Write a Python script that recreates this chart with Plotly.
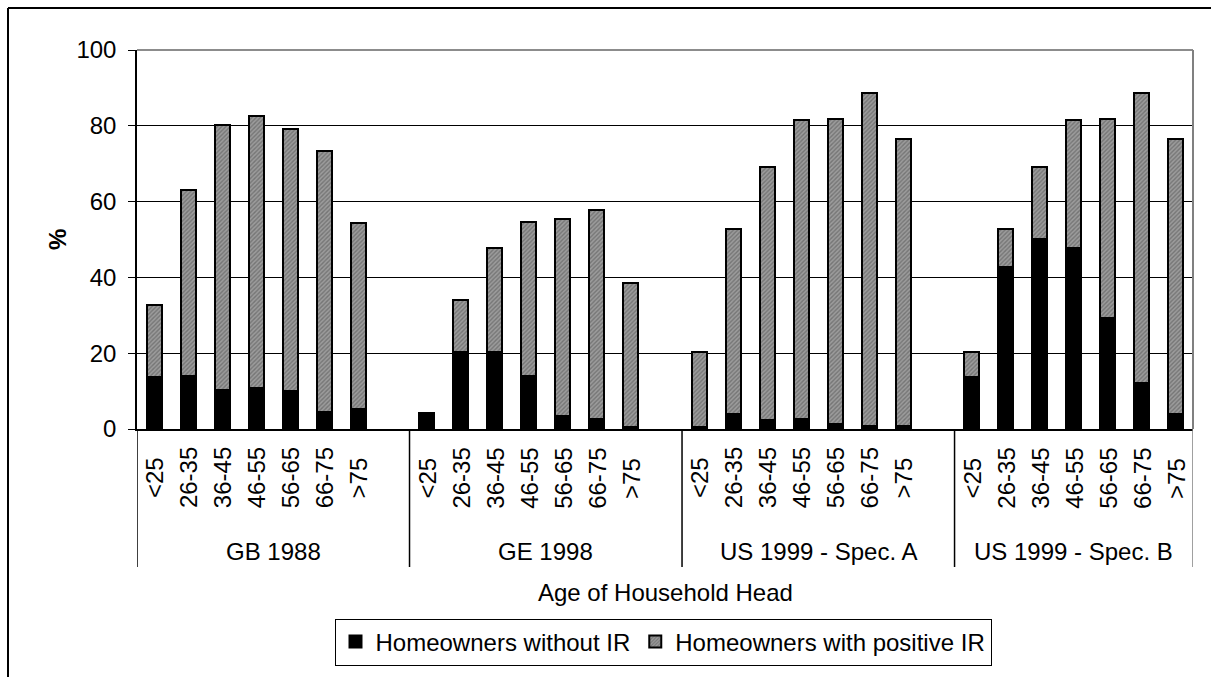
import plotly.graph_objects as go

# --- data -------------------------------------------------------------
groups = ["GB 1988", "GE 1998", "US 1999 - Spec. A", "US 1999 - Spec. B"]
ages = ["<25", "26-35", "36-45", "46-55", "56-65", "66-75", ">75"]

without_ir = [
    [13.8, 14.1, 10.3, 10.7, 10.1, 4.6, 5.2],
    [4.1, 20.2, 20.2, 14.0, 3.5, 2.6, 0.4],
    [0.6, 4.0, 2.4, 2.7, 1.3, 0.9, 0.7],
    [13.6, 42.8, 50.2, 47.7, 29.3, 12.1, 4.0],
]
positive_ir = [
    [18.9, 49.0, 69.9, 71.9, 69.0, 68.8, 49.1],
    [0.0, 13.8, 27.6, 40.6, 51.8, 55.2, 38.1],
    [19.8, 48.7, 66.7, 78.8, 80.6, 87.8, 75.9],
    [6.8, 9.9, 18.9, 33.8, 52.6, 76.6, 72.6],
]

# --- layout constants ---------------------------------------------------
W, H = 1211, 677
L, R, T, B = 137, 18, 50, 248
FONT = "Arial, Liberation Sans, sans-serif"
FS = 24
SLOT = len(ages) + 1  # each group leaves one empty slot after it
N_SLOTS = len(groups) * SLOT - 1


def px_x(p):
    return (p - L) / (W - L - R)


def px_y(p):
    return (H - B - p) / (H - T - B)


xs = []
y_black, y_gray = [], []
for g, name in enumerate(groups):
    for i, a in enumerate(ages):
        xs.append(g * SLOT + i)
        y_black.append(without_ir[g][i])
        y_gray.append(positive_ir[g][i])

fig = go.Figure()
fig.add_trace(go.Bar(
    x=xs, y=y_black, name="Homeowners without IR", width=0.44,
    marker=dict(color="black", line=dict(color="black", width=2)),
))
fig.add_trace(go.Bar(
    x=xs, y=y_gray, name="Homeowners with positive IR", width=0.44,
    marker=dict(
        color="#8c8c8c",
        line=dict(color="black", width=2),
        pattern=dict(shape="/", fgcolor="#4e4e4e", bgcolor="#9c9c9c",
                     size=3, solidity=0.45),
    ),
))

annotations = []
# inner category labels (age bands), rotated
for g, name in enumerate(groups):
    for i, a in enumerate(ages):
        annotations.append(dict(
            x=g * SLOT + i, xref="x", y=px_y(478), yref="paper",
            text=a, textangle=-90, showarrow=False,
            xanchor="center", yanchor="middle",
            font=dict(family=FONT, size=FS, color="black"),
        ))
    # outer category labels (survey)
    left = g * SLOT - 0.5
    right = min(g * SLOT + len(ages) + 0.5, N_SLOTS - 0.5)
    annotations.append(dict(
        x=(left + right) / 2, xref="x", y=px_y(551), yref="paper",
        text=name, showarrow=False, xanchor="center", yanchor="middle",
        font=dict(family=FONT, size=FS, color="black"),
    ))

annotations.append(dict(
    x=px_x(665), xref="paper", y=px_y(592), yref="paper",
    text="Age of Household Head", showarrow=False,
    xanchor="center", yanchor="middle",
    font=dict(family=FONT, size=FS, color="black"),
))
annotations.append(dict(
    x=px_x(57), xref="paper", y=px_y(240), yref="paper",
    text="<b>%</b>", textangle=-90, showarrow=False,
    xanchor="center", yanchor="middle",
    font=dict(family=FONT, size=FS, color="black"),
))

shapes = []
# dividers between survey groups, extending below the axis
for g in range(len(groups) + 1):
    xpos = min(g * SLOT - 0.5, N_SLOTS - 0.5)
    color = "#808080" if g == len(groups) else "black"
    shapes.append(dict(
        type="line", xref="x", yref="paper",
        x0=xpos, x1=xpos, y0=px_y(567), y1=0,
        line=dict(color=color, width=1.5),
    ))
# plot-area frame: top and right edges
shapes.append(dict(type="line", xref="paper", yref="paper",
                   x0=0, x1=1, y0=1, y1=1,
                   line=dict(color="#666666", width=1.5)))
shapes.append(dict(type="line", xref="paper", yref="paper",
                   x0=1, x1=1, y0=0, y1=1,
                   line=dict(color="#808080", width=2)))
# chart-area border
shapes.append(dict(type="line", xref="paper", yref="paper",
                   x0=px_x(8), x1=px_x(1215), y0=px_y(8), y1=px_y(8),
                   line=dict(color="black", width=2)))
shapes.append(dict(type="line", xref="paper", yref="paper",
                   x0=px_x(8), x1=px_x(8), y0=px_y(8), y1=px_y(690),
                   line=dict(color="black", width=2)))

fig.update_layout(
    width=W, height=H,
    margin=dict(l=L, r=R, t=T, b=B),
    barmode="stack",
    paper_bgcolor="white", plot_bgcolor="white",
    font=dict(family=FONT, size=FS, color="black"),
    showlegend=True,
    legend=dict(
        orientation="h", x=px_x(663), y=px_y(642),
        xanchor="center", yanchor="middle", traceorder="normal",
        bordercolor="black", borderwidth=1,
        font=dict(family=FONT, size=24, color="black"),
        itemwidth=30, tracegroupgap=0,
    ),
    annotations=annotations,
    shapes=shapes,
    bargap=0,
)
fig.update_xaxes(
    range=[-0.5, N_SLOTS - 0.5], showticklabels=False, ticks="",
    showgrid=False, zeroline=False,
    showline=True, linecolor="black", linewidth=1.5,
)
fig.update_yaxes(
    range=[0, 100], dtick=20, tick0=0,
    showgrid=True, gridcolor="black", gridwidth=1,
    zeroline=False, showline=True, linecolor="black", linewidth=1.5,
    ticks="outside", ticklen=7, tickcolor="black", tickwidth=1,
    ticklabelstandoff=7,
    tickfont=dict(family=FONT, size=FS, color="black"),
)

fig.write_html("out.html")
